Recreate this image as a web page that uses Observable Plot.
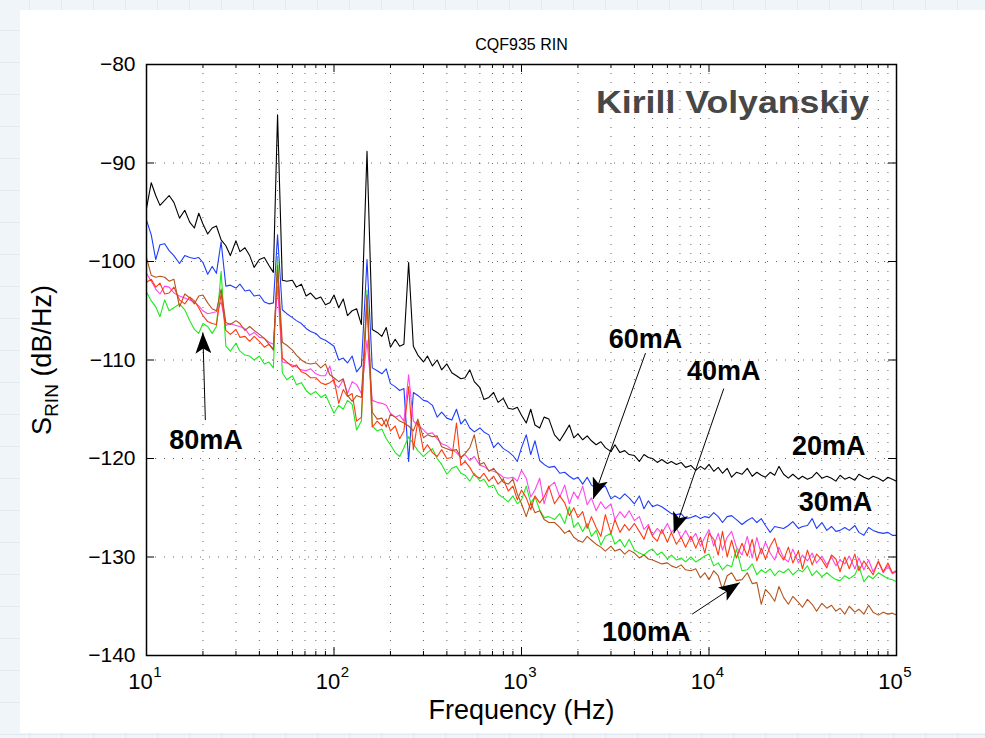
<!DOCTYPE html>
<html>
<head>
<meta charset="utf-8">
<script src="https://cdn.jsdelivr.net/npm/d3@7"></script>
<script src="https://cdn.jsdelivr.net/npm/@observablehq/plot@0.6"></script>
<style>
  html, body { margin: 0; padding: 0; }
  body {
    width: 985px; height: 738px; overflow: hidden; position: relative;
    background-color: #f0f5f9;
    background-image:
      linear-gradient(#e1eaf1 1px, transparent 1px),
      linear-gradient(90deg, #e1eaf1 1px, transparent 1px);
    background-size: 32px 32px;
    background-position: -3px -2px;
  }
  #panel { position: absolute; left: 20px; top: 10px; width: 965px; height: 723px; background: #fff; }
  #panel svg { display: block; }
</style>
</head>
<body>
<div id="panel"></div>
<script>
// Analyser bins (R40 preferred numbers), Hz
const freqHz = [
  10,10.6,11.2,11.8,12.5,13.2,14,15,16,17,18,19,20,21.2,22.4,23.6,25,26.5,28,30,31.5,33.5,35.5,37.5,40,42.5,45,47.5,50,53,56,60,63,67,71,75,80,85,90,95,
  100,106,112,118,125,132,140,150,160,170,180,190,200,212,224,236,250,265,280,300,315,335,355,375,400,425,450,475,500,530,560,600,630,670,710,750,800,850,900,950,
  1000,1060,1120,1180,1250,1320,1400,1500,1600,1700,1800,1900,2000,2120,2240,2360,2500,2650,2800,3000,3150,3350,3550,3750,4000,4250,4500,4750,5000,5300,5600,6000,6300,6700,7100,7500,8000,8500,9000,9500,
  10000,10600,11200,11800,12500,13200,14000,15000,16000,17000,18000,19000,20000,21200,22400,23600,25000,26500,28000,30000,31500,33500,35500,37500,40000,42500,45000,47500,50000,53000,56000,60000,63000,67000,71000,75000,80000,85000,90000,95000,
  100000
];

// RIN spectra in dB/Hz, one value per bin
const rin20mA = [
  -94.6,-92.0,-93.3,-94.3,-93.8,-93.3,-94.0,-95.6,-94.8,-96.0,-96.6,-95.1,-96.2,-97.2,-96.6,-96.4,-97.8,-98.4,-99.4,-97.9,-99.0,-98.6,-99.4,-100.6,-99.8,-99.6,-100.4,-101.1,-85.1,-101.9,-102.0,-101.9,-102.6,-102.3,-103.5,-103.2,-103.8,-103.6,-104.4,-104.2,
  -103.4,-104.7,-103.8,-105.5,-105.0,-104.8,-106.4,-88.8,-106.9,-107.2,-107.6,-106.7,-108.7,-107.9,-108.6,-108.4,-100.1,-108.6,-109.5,-110.2,-109.6,-110.6,-110.0,-111.0,-110.4,-111.3,-111.6,-111.9,-111.8,-111.0,-112.2,-112.8,-114.0,-113.8,-113.3,-114.3,-113.9,-114.9,-115.0,-114.8,
  -115.6,-116.4,-115.0,-116.6,-116.9,-115.8,-116.0,-117.6,-118.2,-117.4,-116.6,-117.9,-117.5,-118.1,-117.7,-118.2,-118.6,-118.3,-118.9,-119.3,-118.6,-119.4,-119.2,-119.6,-119.7,-120.3,-119.6,-119.9,-120.0,-120.4,-120.1,-120.5,-120.3,-120.6,-120.4,-120.9,-120.7,-121.2,-120.8,-121.1,
  -120.6,-121.3,-120.9,-121.5,-121.0,-121.9,-121.4,-121.6,-121.0,-121.8,-121.4,-121.7,-121.9,-121.4,-121.7,-120.8,-121.6,-122.0,-121.6,-122.1,-121.8,-122.1,-121.9,-121.4,-122.0,-121.8,-122.0,-122.3,-121.7,-122.1,-121.9,-122.2,-121.6,-121.9,-122.1,-121.8,-122.0,-122.3,-121.9,-122.1,
  -122.3
];
const rin30mA = [
  -95.8,-97.3,-99.8,-98.3,-98.2,-98.9,-99.4,-100.2,-99.4,-99.6,-99.7,-99.6,-100.1,-101.3,-100.5,-101.2,-98.0,-102.5,-102.4,-102.7,-102.3,-103.0,-102.9,-103.5,-103.4,-104.1,-104.3,-104.2,-97.3,-104.9,-105.3,-105.7,-106.0,-106.3,-106.8,-107.1,-107.3,-107.8,-108.0,-108.3,
  -108.6,-110.0,-109.8,-110.3,-109.6,-111.2,-110.6,-99.8,-110.8,-111.1,-111.4,-110.9,-112.4,-112.7,-113.1,-112.9,-120.3,-113.3,-113.6,-114.1,-114.2,-114.6,-115.8,-115.3,-115.9,-116.1,-115.0,-116.5,-116.0,-116.9,-117.3,-116.9,-117.3,-117.6,-118.9,-118.4,-119.0,-119.3,-119.7,-120.3,
  -118.9,-117.6,-119.6,-118.2,-120.2,-120.6,-120.9,-120.8,-121.5,-121.4,-121.8,-122.1,-121.9,-122.6,-121.9,-122.7,-123.0,-123.0,-122.8,-124.1,-123.8,-124.1,-123.6,-124.0,-124.6,-123.8,-125.1,-124.3,-124.9,-124.7,-124.9,-125.3,-125.6,-125.7,-125.6,-126.1,-126.0,-125.8,-126.1,-125.9,
  -126.0,-125.5,-125.9,-126.5,-125.9,-125.8,-126.2,-126.7,-126.3,-126.0,-126.5,-126.1,-126.8,-127.5,-126.9,-127.0,-127.1,-126.8,-126.4,-127.1,-126.9,-126.8,-126.1,-127.1,-126.5,-127.3,-126.9,-127.4,-127.3,-127.0,-127.3,-126.8,-127.5,-127.8,-127.0,-127.3,-127.5,-127.6,-127.5,-127.8,
  -127.8
];
const rin40mA = [
  -102.1,-101.8,-102.6,-102.2,-103.3,-103.2,-102.6,-103.9,-104.3,-103.6,-104.0,-104.7,-105.5,-106.1,-106.3,-106.4,-103.3,-107.0,-107.4,-106.9,-107.7,-107.6,-108.1,-107.6,-108.1,-108.7,-108.4,-109.0,-100.9,-109.8,-110.2,-110.7,-110.5,-111.2,-111.4,-111.8,-111.8,-112.3,-112.5,-112.3,
  -112.0,-114.4,-113.0,-113.7,-113.4,-116.2,-115.8,-104.0,-116.8,-116.2,-116.7,-116.0,-117.2,-116.7,-118.0,-117.2,-112.7,-119.1,-116.2,-119.2,-118.6,-119.4,-119.8,-119.1,-120.0,-119.9,-116.4,-120.7,-120.3,-120.9,-121.7,-122.0,-121.5,-122.3,-121.8,-122.6,-122.1,-123.3,-122.8,-124.2,
  -123.2,-124.0,-125.2,-123.8,-124.5,-123.9,-122.8,-124.6,-123.8,-124.5,-125.8,-125.0,-126.0,-125.4,-127.1,-125.9,-127.0,-127.9,-125.7,-127.6,-126.2,-127.5,-126.7,-127.3,-126.6,-127.4,-128.2,-126.9,-127.9,-128.4,-127.2,-128.5,-127.5,-128.7,-128.0,-129.0,-127.9,-129.1,-128.0,-129.6,
  -127.6,-128.2,-129.8,-127.4,-130.0,-128.3,-130.1,-128.6,-129.9,-128.2,-130.4,-129.1,-130.2,-128.9,-128.1,-129.6,-130.3,-129.0,-130.6,-129.4,-131.2,-129.3,-130.8,-129.7,-130.3,-131.1,-129.8,-130.2,-131.5,-130.0,-131.2,-129.7,-131.4,-130.4,-131.1,-131.8,-130.4,-131.5,-130.6,-131.6,
  -131.4
];
const rin60mA = [
  -101.2,-102.0,-102.8,-103.3,-102.5,-102.6,-103.2,-103.5,-103.7,-103.9,-104.1,-104.5,-105.0,-105.3,-105.2,-105.1,-104.1,-106.5,-106.3,-106.5,-106.6,-106.8,-107.5,-107.2,-107.7,-107.8,-108.2,-108.4,-102.5,-110.2,-110.3,-110.5,-110.7,-111.0,-111.1,-110.9,-111.4,-111.6,-111.6,-110.6,
  -112.4,-112.8,-112.0,-113.4,-112.2,-112.5,-113.4,-108.0,-114.1,-114.3,-114.4,-114.6,-115.4,-115.8,-115.6,-116.2,-111.5,-116.2,-116.6,-117.1,-117.5,-117.4,-118.0,-118.5,-118.7,-119.1,-119.4,-119.9,-119.6,-120.2,-119.8,-120.7,-120.8,-121.2,-121.3,-121.5,-121.9,-122.0,-121.9,-122.3,
  -121.2,-122.0,-123.9,-123.2,-122.0,-124.6,-122.9,-122.4,-123.9,-122.7,-124.6,-123.4,-124.1,-122.8,-124.7,-124.0,-125.3,-124.4,-125.1,-124.6,-126.2,-125.4,-126.0,-125.3,-126.3,-125.9,-127.2,-126.7,-127.8,-127.1,-127.6,-126.6,-127.5,-127.0,-128.1,-127.3,-128.3,-127.6,-128.9,-128.0,
  -127.2,-128.9,-127.6,-129.3,-128.0,-127.4,-129.0,-129.8,-127.9,-130.1,-128.0,-129.7,-128.5,-129.6,-130.3,-129.0,-130.1,-130.5,-129.2,-130.6,-129.8,-130.4,-129.6,-130.6,-129.9,-130.8,-130.0,-130.9,-130.3,-130.7,-129.9,-131.2,-130.1,-131.3,-130.3,-131.5,-130.5,-131.6,-130.9,-131.7,
  -131.5
];
const rin80mA = [
  -103.1,-104.0,-104.6,-105.6,-103.9,-105.0,-104.7,-104.3,-104.9,-106.0,-106.9,-107.3,-106.3,-106.6,-107.3,-106.6,-101.0,-108.6,-109.1,-108.3,-109.1,-109.5,-109.6,-110.0,-109.6,-110.4,-110.2,-110.8,-99.5,-111.3,-112.0,-111.6,-112.5,-112.3,-113.1,-113.5,-113.2,-113.8,-113.5,-114.5,
  -115.4,-114.6,-115.0,-114.1,-114.5,-117.1,-116.2,-102.9,-116.7,-117.2,-117.0,-118.0,-118.6,-119.4,-119.8,-118.9,-117.8,-118.5,-119.2,-119.8,-119.4,-119.0,-120.0,-120.6,-121.6,-121.0,-120.8,-121.5,-121.7,-122.3,-121.5,-122.3,-122.1,-122.9,-122.7,-123.6,-124.0,-124.4,-123.8,-124.6,
  -124.2,-122.8,-124.5,-123.9,-125.2,-126.0,-125.9,-126.2,-125.6,-126.6,-124.9,-127.0,-126.5,-127.4,-126.6,-127.9,-127.3,-128.8,-127.9,-127.6,-128.7,-128.2,-129.0,-128.2,-129.3,-129.6,-129.8,-129.4,-129.2,-129.8,-129.5,-130.2,-129.8,-130.3,-130.1,-130.5,-130.0,-130.5,-130.2,-129.9,
  -129.7,-130.9,-130.6,-131.3,-130.8,-131.0,-129.2,-131.4,-131.3,-130.7,-131.8,-131.3,-131.6,-131.2,-131.9,-131.4,-131.6,-131.2,-131.8,-131.3,-131.5,-130.9,-131.9,-131.4,-132.0,-131.6,-132.0,-132.3,-132.4,-131.9,-132.2,-131.8,-130.9,-132.5,-131.9,-132.2,-131.6,-131.9,-132.2,-132.3,
  -132.5
];
const rin100mA = [
  -99.6,-101.4,-101.6,-101.5,-101.6,-102.0,-101.8,-104.6,-103.3,-103.7,-104.3,-103.5,-103.4,-104.2,-104.8,-105.0,-102.8,-106.2,-106.4,-106.0,-106.3,-107.0,-106.6,-107.0,-107.4,-107.8,-108.4,-108.9,-100.4,-108.2,-108.5,-109.0,-109.5,-110.0,-110.3,-110.4,-110.3,-110.8,-110.4,-111.5,
  -111.8,-112.2,-111.9,-113.6,-114.2,-113.6,-113.8,-103.4,-115.3,-116.0,-115.9,-116.8,-115.5,-115.8,-116.2,-116.4,-116.7,-117.2,-116.0,-117.9,-117.6,-117.8,-117.7,-118.8,-119.0,-119.2,-119.1,-119.9,-119.5,-118.9,-117.6,-120.6,-120.4,-121.3,-121.0,-121.6,-122.4,-122.6,-122.1,-123.6,
  -124.6,-125.9,-124.5,-125.5,-125.3,-126.2,-126.5,-126.5,-127.0,-127.6,-127.3,-128.0,-128.3,-128.5,-127.9,-128.3,-128.7,-129.0,-129.4,-128.9,-129.4,-129.2,-129.7,-129.3,-129.6,-130.1,-129.8,-130.2,-130.3,-130.5,-130.7,-130.6,-130.9,-131.1,-130.8,-131.3,-131.4,-131.2,-132.1,-131.6,
  -132.3,-131.4,-131.9,-133.3,-131.9,-131.6,-132.4,-132.3,-131.6,-132.7,-132.6,-134.8,-133.3,-133.8,-134.5,-133.0,-134.1,-134.8,-134.0,-134.6,-135.1,-134.3,-134.8,-135.5,-134.7,-135.2,-134.9,-135.5,-135.2,-135.8,-135.0,-135.6,-135.3,-135.8,-134.9,-135.6,-135.9,-135.6,-135.8,-135.7,
  -135.9
];

// Drive currents, drawing order and trace colours
const currents = ["20mA", "30mA", "80mA", "60mA", "40mA", "100mA"];
const traceColors = ["#000000", "#1c3cff", "#1ee81e", "#ff45f0", "#ff3a10", "#b4531c"];
const spectra = {"20mA": rin20mA, "30mA": rin30mA, "40mA": rin40mA, "60mA": rin60mA, "80mA": rin80mA, "100mA": rin100mA};

// Axes
const xMajor = [10, 100, 1000, 10000, 100000];
const xExponent = ["1", "2", "3", "4", "5"];
const xMinor = [20,30,40,50,60,70,80,90, 200,300,400,500,600,700,800,900, 2000,3000,4000,5000,6000,7000,8000,9000, 20000,30000,40000,50000,60000,70000,80000,90000];
const yTicks = [-140, -130, -120, -110, -100, -90, -80];

// Texts
const titleText = "CQF935 RIN";
const xLabel = "Frequency (Hz)";
const signature = "Kirill Volyanskiy";

// Curve labels: text, position (Hz, dB/Hz)
const labelText = ["20mA", "30mA", "40mA", "60mA", "80mA", "100mA"];
const labelFreq = [43550, 47290, 11990, 4590, 20.75, 4630];
const labelDb = [-118.8, -124.5, -111.2, -107.9, -118.2, -137.7];

// Pointer arrows: tail -> head (Hz, dB/Hz)
const arrowFromFreq = [4585, 11990, 20.6, 8136];
const arrowFromDb = [-109.3, -112.9, -116.1, -135.8];
const arrowToFreq = [2412, 6491, 19.97, 14600];
const arrowToDb = [-124.1, -127.6, -107.2, -132.6];

for (const k of currents) {
  if (spectra[k].length !== freqHz.length) throw new Error(k + " has " + spectra[k].length + " values, expected " + freqHz.length);
}

const rows = currents.flatMap(name => freqHz.map((f, i) => ({f, v: spectra[name][i], name})));
const labels = labelText.map((t, i) => ({t, f: labelFreq[i], v: labelDb[i]}));
const arrows = arrowFromFreq.map((f, i) => ({f1: f, v1: arrowFromDb[i], f2: arrowToFreq[i], v2: arrowToDb[i]}));

const W = 965, H = 723, mL = 126, mR = 89, mT = 54, mB = 78;
const innerW = W - mL - mR, innerH = H - mT - mB;
const majorLen = 8, minorLen = 4;
const font = "'Liberation Sans', Arial, Helvetica, sans-serif";
const gridStyle = {stroke: "#000", strokeOpacity: 0.6, strokeWidth: 1, strokeDasharray: "1,8"};

const chart = Plot.plot({
  width: W, height: H,
  marginLeft: mL, marginRight: mR, marginTop: mT, marginBottom: mB,
  style: {fontFamily: font, background: "white", color: "black", overflow: "visible"},
  x: {type: "log", domain: [10, 1e5], axis: null},
  y: {domain: [-140, -80], axis: null},
  color: {domain: currents, range: traceColors},
  marks: [
    // dotted grid
    Plot.gridX(xMinor.concat(xMajor.slice(1, -1)), gridStyle),
    Plot.gridY(yTicks.slice(1, -1), gridStyle),
    // spectra
    Plot.line(rows, {x: "f", y: "v", z: "name", stroke: "name", strokeWidth: 1.1}),
    // inward ticks on all four sides
    Plot.tickX(xMajor, {x: d => d, insetTop: innerH - majorLen, stroke: "black"}),
    Plot.tickX(xMajor, {x: d => d, insetBottom: innerH - majorLen, stroke: "black"}),
    Plot.tickX(xMinor, {x: d => d, insetTop: innerH - minorLen, stroke: "black"}),
    Plot.tickX(xMinor, {x: d => d, insetBottom: innerH - minorLen, stroke: "black"}),
    Plot.tickY(yTicks, {y: d => d, insetRight: innerW - majorLen, stroke: "black"}),
    Plot.tickY(yTicks, {y: d => d, insetLeft: innerW - majorLen, stroke: "black"}),
    Plot.frame({stroke: "black", strokeWidth: 1.5}),
    // tick labels
    Plot.axisY(yTicks, {tickSize: 0, tickPadding: 11, fontSize: 21, label: null}),
    Plot.text(xMajor, {x: d => d, text: () => "10", frameAnchor: "bottom", dy: 33, dx: -6, fontSize: 22}),
    Plot.text(xMajor, {x: d => d, text: (d, i) => xExponent[i], frameAnchor: "bottom", dy: 21, dx: 11, fontSize: 15}),
    // title and axis labels
    Plot.text([titleText], {text: d => d, frameAnchor: "top", dy: -26, fontSize: 16}),
    Plot.text([xLabel], {text: d => d, frameAnchor: "bottom", dy: 63, fontSize: 27}),
    Plot.text(["S"], {text: d => d, frameAnchor: "left", textAnchor: "middle", dx: -104, rotate: -90, fontSize: 27, className: "ylab"}),
    // annotations
    Plot.text([signature], {text: d => d, x: () => 13350, y: () => -83.9, fontSize: 32, fontWeight: "bold", fill: "#474747", className: "sig"}),
    Plot.link(arrows, {x1: "f1", y1: "v1", x2: "f2", y2: "v2", stroke: "black", strokeWidth: 1, className: "pointer"}),
    Plot.text(labels, {x: "f", y: "v", text: "t", fontSize: 27, fontWeight: "bold", fill: "black"})
  ]
});

// filled, notched arrow heads for the pointer lines
const svg = d3.select(chart);
svg.append("defs").append("marker")
  .attr("id", "pointer-head")
  .attr("viewBox", "0 0 21 16")
  .attr("refX", 21).attr("refY", 8)
  .attr("markerWidth", 21).attr("markerHeight", 16)
  .attr("markerUnits", "userSpaceOnUse")
  .attr("orient", "auto")
  .append("path").attr("d", "M0,0L21,8L0,16L5,8Z").attr("fill", "black");
svg.selectAll(".pointer path").attr("marker-end", "url(#pointer-head)");

// subscripted axis label
svg.selectAll(".ylab text").html('S<tspan dy="7" font-size="19">RIN</tspan><tspan dy="-7"> (dB/Hz)</tspan>');
svg.selectAll(".sig text").attr("textLength", 273).attr("lengthAdjust", "spacingAndGlyphs");

document.getElementById("panel").appendChild(chart);
</script>
</body>
</html>
